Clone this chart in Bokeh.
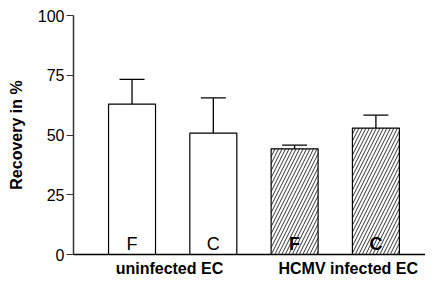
from bokeh.plotting import figure
from bokeh.models import Range1d, ColumnDataSource, Whisker, TeeHead, FixedTicker
from bokeh.core.properties import value, field
from bokeh.embed import file_html
from bokeh.resources import INLINE

# ---- data ----
groups = ["uninfected EC", "HCMV infected EC"]
letters = ["F", "C", "F", "C"]
infected = [False, False, True, True]
means = [62.9, 50.8, 44.2, 52.9]
errors = [10.4, 14.7, 1.6, 5.4]
y_ticks = [0, 25, 50, 75, 100]

xs = list(range(1, len(means) + 1))
src = ColumnDataSource(dict(
    x=xs,
    top=means,
    upper=[m + e for m, e in zip(means, errors)],
    hatch=["/" if inf else " " for inf in infected],
    letter=letters,
    style=["bold" if inf else "normal" for inf in infected],
))

FONT = "Liberation Sans"

p = figure(width=425, height=279, output_backend="svg", toolbar_location=None,
           x_range=Range1d(0.28, 4.61), y_range=Range1d(0, 100),
           min_border_left=73, min_border_right=0, min_border_top=15,
           min_border_bottom=24, outline_line_color=None,
           background_fill_color="white", border_fill_color="white")
p.xgrid.visible = False
p.ygrid.visible = False

p.vbar(x="x", top="top", bottom=0, width=0.578, source=src,
       fill_color="white", line_color="black", line_width=1.2,
       hatch_pattern=field("hatch"), hatch_color="black",
       hatch_scale=7, hatch_weight=0.8)

wh = Whisker(source=src, base="x", upper="upper", lower="top",
             dimension="height", line_color="black", line_width=1.3,
             upper_head=TeeHead(size=25, line_color="black", line_width=1.3),
             lower_head=None)
p.add_layout(wh)

p.text(x="x", y=0, text="letter", source=src, text_font=value(FONT),
       text_font_size="18px", text_font_style=field("style"),
       text_align="center", text_baseline="bottom", y_offset=-1,
       text_color="black")

# y axis
ya = p.yaxis[0]
ya.ticker = FixedTicker(ticks=y_ticks)
ya.axis_line_color = "#333333"
ya.axis_line_width = 1.5
ya.major_tick_in = 0
ya.major_tick_out = 7
ya.major_tick_line_color = "#333333"
ya.major_tick_line_width = 1.2
ya.minor_tick_out = 0
ya.minor_tick_in = 0
ya.major_label_text_font = FONT
ya.major_label_text_font_size = "16px"
ya.major_label_text_color = "black"
ya.major_label_standoff = 2
ya.axis_label = "Recovery in %"
ya.axis_label_text_font = FONT
ya.axis_label_text_font_size = "16px"
ya.axis_label_text_font_style = "bold"
ya.axis_label_text_color = "black"
ya.axis_label_standoff = 10

# x axis: group labels as tick labels
label_shift = [-0.04, 0.16]
group_pos = [(xs[2 * i] + xs[2 * i + 1]) / 2 + label_shift[i] for i in range(len(groups))]
xa = p.xaxis[0]
xa.ticker = FixedTicker(ticks=group_pos)
xa.major_label_overrides = {pos: g for pos, g in zip(group_pos, groups)}
xa.major_label_text_font = FONT
xa.major_label_text_font_size = "16px"
xa.major_label_text_font_style = "bold"
xa.major_label_text_color = "black"
xa.major_label_standoff = 5
xa.major_tick_out = 0
xa.major_tick_in = 0
xa.minor_tick_out = 0
xa.minor_tick_in = 0
xa.axis_line_color = "black"
xa.axis_line_width = 1.5

open("out.html", "w").write(file_html(p, INLINE))
